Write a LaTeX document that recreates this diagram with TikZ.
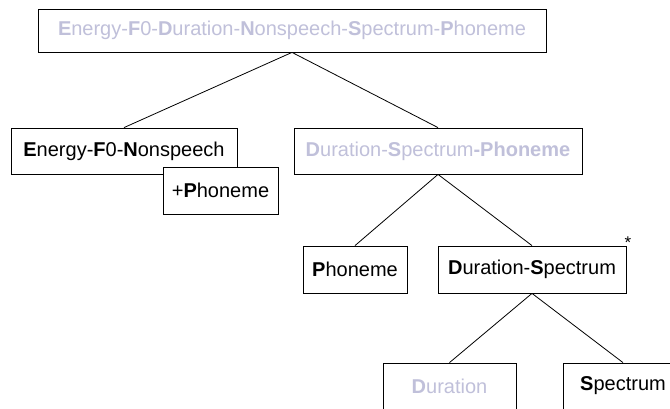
\documentclass[tikz,border=0pt]{standalone}
\usepackage{fontspec}
\setmainfont{Liberation Sans}
\usepackage{xcolor}
\usepackage{tikz}
\definecolor{fadegray}{RGB}{192, 192, 218}

\begin{document}
\begin{tikzpicture}[
    x=1pt, y=-1pt,
    box/.style={rectangle, draw=black, line width=0.8pt, inner sep=0pt, minimum height=46pt, align=center, fill=white, font=\fontsize{20}{24}\selectfont},
    faded/.style={text=fadegray},
    branch/.style={-, line width=0.8pt, black}
]
    \useasboundingbox (0,0) rectangle (670,409);
    \clip (0,0) rectangle (670,409);

    \node[box, faded, minimum width=508pt, minimum height=43pt] (all) at (292,30.5)
        {\textbf{E}nergy-\textbf{F}0-\textbf{D}uration-\textbf{N}onspeech-\textbf{S}pectrum-\textbf{P}honeme};

    \node[box, minimum width=226pt] (efn) at (124,151) {\textbf{E}nergy-\textbf{F}0-\textbf{N}onspeech};
    \node[box, minimum width=115pt, minimum height=47pt] (plusph) at (220.5,190.5) {+\textbf{P}honeme};
    \node[box, faded, minimum width=288pt] (dsp) at (438,151) {\textbf{D}uration-\textbf{S}pectrum\textbf{-Phoneme}};

    \node[box, minimum width=104pt, minimum height=47pt] (phon) at (355,269.5) {\textbf{P}honeme};
    \node[box, minimum width=188pt, minimum height=47pt] (ds) at (532,269.5) {\textbf{D}uration-\textbf{S}pectrum};
    \node[font=\fontsize{17}{18}\selectfont] (star) at (628,243) {*};

    \node[box, faded, minimum width=133pt] (dur) at (449.5,386) {\textbf{D}uration};
    \node[box, minimum width=120pt] (spec) at (623,386) {\textbf{S}pectrum};

    \draw[branch] (all.south) -- (efn.north);
    \draw[branch] (all.south) -- (dsp.north);
    \draw[branch] (dsp.south) -- (phon.north);
    \draw[branch] (dsp.south) -- (ds.north);
    \draw[branch] (ds.south) -- (dur.north);
    \draw[branch] (ds.south) -- (spec.north);
\end{tikzpicture}
\end{document}
